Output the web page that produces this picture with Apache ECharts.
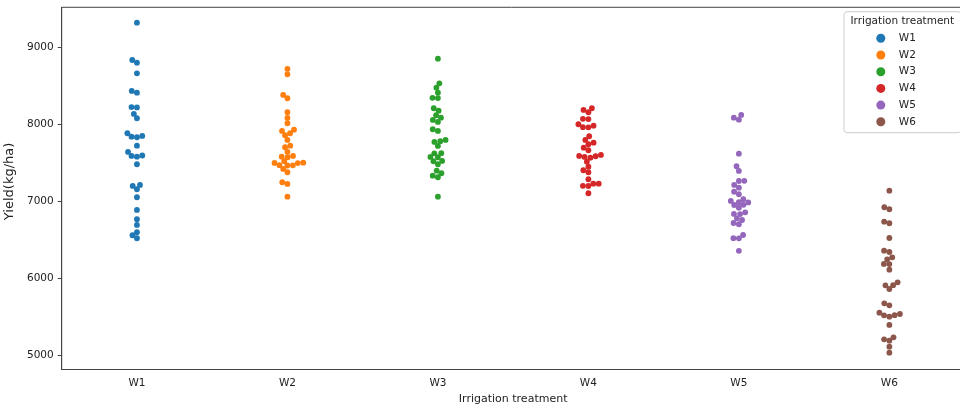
<!DOCTYPE html>
<html>
<head>
<meta charset="utf-8">
<script src="https://cdn.jsdelivr.net/npm/echarts@6/dist/echarts.min.js"></script>
<style>
html,body{margin:0;padding:0;background:#fff;}
#chart{width:960px;height:406px;}
</style>
</head>
<body>
<div id="chart"></div>
<script>
const categories = ['W1', 'W2', 'W3', 'W4', 'W5', 'W6'];
const W1 = [9325, 8840, 8805, 8667, 8437, 8415, 8227, 8223, 8138, 8082, 7887, 7843, 7835, 7852, 7726, 7644, 7592, 7583, 7598, 7484, 7202, 7159, 7215, 7055, 6890, 6769, 6695, 6561, 6600, 6522];
const W2 = [8723, 8654, 8385, 8342, 8160, 8086, 8017, 7917, 7861, 7887, 7934, 7800, 7726, 7705, 7644, 7583, 7575, 7592, 7523, 7505, 7470, 7472, 7468, 7501, 7499, 7423, 7380, 7250, 7228, 7062];
const W3 = [8857, 8537, 8480, 8415, 8348, 8344, 8212, 8181, 8121, 8090, 8060, 8034, 7939, 7917, 7774, 7722, 7783, 7800, 7628, 7626, 7579, 7575, 7527, 7523, 7484, 7401, 7367, 7336, 7315, 7062];
const W4 = [8190, 8160, 8212, 8075, 8071, 8004, 7966, 7964, 7986, 7848, 7800, 7744, 7765, 7700, 7666, 7592, 7570, 7605, 7579, 7588, 7518, 7453, 7406, 7380, 7289, 7231, 7203, 7201, 7232, 7107];
const W5 = [8090, 8064, 8125, 7622, 7458, 7397, 7268, 7266, 7215, 7180, 7127, 7094, 7029, 6990, 6956, 7007, 6954, 6988, 6919, 6859, 6838, 6836, 6781, 6759, 6720, 6704, 6523, 6521, 6564, 6358];
const W6 = [7140, 6925, 6899, 6737, 6717, 6525, 6360, 6343, 6274, 6248, 6188, 6186, 6113, 5949, 5911, 5909, 5862, 5676, 5650, 5537, 5521, 5519, 5502, 5554, 5394, 5208, 5190, 5234, 5112, 5034];
const seriesValues = [W1, W2, W3, W4, W5, W6];
const yTicks = [5000, 6000, 7000, 8000, 9000];
const yMin = 4815;
const yMax = 9525;
const colors = ['#1f77b4', '#ff7f0e', '#2ca02c', '#d62728', '#9467bd', '#8c564b'];

const FONT = '"DejaVu Sans", sans-serif';
const SWARM_R = 2.6;  // collision radius in px
const DOT_R = 2.9;    // drawn radius in px

// seaborn-like beeswarm in pixel space
function beeswarm(pts, r) {
  const order = pts.map((p, i) => i).sort((a, b) => pts[b][1] - pts[a][1]);
  const mid = pts[0][0];
  const placed = [];
  const out = new Array(pts.length);
  for (const i of order) {
    const y = pts[i][1];
    const nb = placed.filter(q => Math.abs(q[1] - y) <= 2 * r);
    let cands = [[mid, y]];
    let leftFirst = true;
    for (const q of nb) {
      const dy = y - q[1];
      const dx = Math.sqrt(Math.max(4 * r * r - dy * dy, 0)) * 1.05;
      const cl = [q[0] - dx, y], cr = [q[0] + dx, y];
      if (leftFirst) cands.push(cl, cr); else cands.push(cr, cl);
      leftFirst = !leftFirst;
    }
    cands = cands.map((c, k) => ({c, k, o: Math.abs(c[0] - mid)}))
      .sort((a, b) => (a.o - b.o) || (a.k - b.k)).map(d => d.c);
    let chosen = cands[0];
    for (const c of cands) {
      let ok = true;
      for (const q of nb) {
        const ddx = c[0] - q[0], ddy = c[1] - q[1];
        if (ddx * ddx + ddy * ddy < 4 * r * r - 1e-6) { ok = false; break; }
      }
      if (ok) { chosen = c; break; }
    }
    placed.push(chosen);
    out[i] = chosen;
  }
  return out;
}

function makeRender(ci, values) {
  return function (params, api) {
    const ctx = params.context || {};
    if (!ctx.pos) {
      ctx.pos = beeswarm(values.map(v => api.coord([ci, v])), SWARM_R);
    }
    const p = ctx.pos[params.dataIndex];
    return {
      type: 'circle',
      shape: {cx: p[0], cy: p[1], r: DOT_R},
      style: {fill: api.visual('color')}
    };
  };
}

const chart = echarts.init(document.getElementById('chart'), null, {renderer: 'canvas'});

const series = categories.map((name, ci) => ({
  name: name,
  type: 'custom',
  coordinateSystem: 'cartesian2d',
  itemStyle: {color: colors[ci]},
  encode: {x: 0, y: 1},
  renderItem: makeRender(ci, seriesValues[ci]),
  data: seriesValues[ci].map(v => [ci, v]),
  animation: false
}));

const option = {
  animation: false,
  color: colors,
  textStyle: {fontFamily: FONT},
  grid: {
    left: 61.7, right: -4.6, top: 7.3, bottom: 36.5,
    containLabel: false, outerBoundsMode: 'none',
    show: true, borderColor: '#444', borderWidth: 1, backgroundColor: 'transparent'
  },
  xAxis: {
    type: 'category',
    data: categories,
    name: 'Irrigation treatment',
    nameLocation: 'middle',
    nameGap: 21,
    nameTextStyle: {fontFamily: FONT, fontSize: 11, color: '#222'},
    axisLine: {lineStyle: {color: '#444', width: 1}},
    axisTick: {alignWithLabel: true, length: 4, lineStyle: {color: '#444'}},
    axisLabel: {fontFamily: FONT, fontSize: 10.5, color: '#222', margin: 8},
    splitLine: {show: false}
  },
  yAxis: {
    type: 'value',
    min: yMin,
    max: yMax,
    name: 'Yield(kg/ha)',
    nameLocation: 'middle',
    nameGap: 37,
    nameTextStyle: {fontFamily: FONT, fontSize: 13, color: '#222', padding: [0, 0, 0, 14]},
    axisLine: {show: true, lineStyle: {color: '#444', width: 1}},
    axisTick: {show: true, length: 4, lineStyle: {color: '#444'}, customValues: yTicks},
    axisLabel: {fontFamily: FONT, fontSize: 10.5, color: '#222', margin: 8, customValues: yTicks,
      formatter: v => String(v)},
    splitLine: {show: false}
  },
  legend: {
    orient: 'vertical',
    left: 876.3,
    top: 32.3,
    padding: 0,
    itemWidth: 26,
    itemHeight: 9,
    itemGap: 4.7,
    icon: 'circle',
    textStyle: {fontFamily: FONT, fontSize: 10.5, color: '#222', lineHeight: 12},
    data: categories,
    z: 6
  },
  graphic: [
    {
      type: 'rect',
      z: 5,
      shape: {x: 844, y: 11.7, width: 117, height: 121, r: 3},
      style: {fill: 'rgba(255,255,255,0.8)', stroke: '#ccc', lineWidth: 1}
    },
    {
      type: 'text',
      z: 6,
      x: 902.3,
      y: 21,
      style: {text: 'Irrigation treatment', font: '10.5px ' + FONT, fill: '#222', textAlign: 'center', textVerticalAlign: 'middle'}
    }
  ],
  series: series
};

chart.setOption(option);
</script>
</body>
</html>
